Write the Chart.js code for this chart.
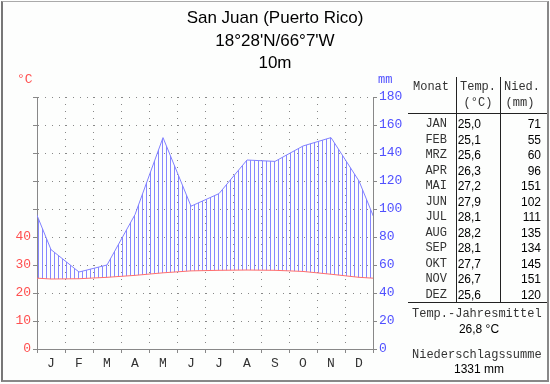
<!DOCTYPE html>
<html><head><meta charset="utf-8">
<script src="https://cdn.jsdelivr.net/npm/chart.js@4"></script>
<style>
html,body{margin:0;padding:0;background:#fdfefd;}
#wrap{position:relative;width:550px;height:384px;overflow:hidden;background:#fdfefd;}
#frame{position:absolute;left:1px;top:1px;width:544px;height:378px;border-top:1px solid #aaa;border-left:2px solid #777;border-right:2px solid #888;border-bottom:2px solid #888;}
canvas{position:absolute;left:0;top:0;}
.t{position:absolute;white-space:pre;line-height:16px;height:16px;}
.title{left:0;width:550px;text-align:center;font-family:"Liberation Sans",Arial,sans-serif;font-size:17px;color:#000;line-height:20px;height:20px;}
.mono{font-family:"Liberation Mono","DejaVu Sans Mono",monospace;font-size:12px;color:#333;}
.ax{font-size:13px;}
.num{font-family:"Liberation Sans",Arial,sans-serif;font-size:12px;color:#000;}
.r{text-align:right;}
.c{text-align:center;}
.hl{position:absolute;height:1px;background:#222;}
.vl{position:absolute;width:1px;background:#222;}
</style></head>
<body><div id="wrap">
<canvas id="c" width="550" height="384"></canvas>
<div id="frame"></div>
<div class="t title" style="top:8px">San Juan (Puerto Rico)</div>
<div class="t title" style="top:31px">18°28'N/66°7'W</div>
<div class="t title" style="top:53px">10m</div>
<div class="t mono ax" style="left:17px;top:72px;color:rgb(255,80,80)">°C</div>
<div class="t mono" style="left:378px;top:72px;color:rgb(80,80,255)">mm</div>
<div id="table"></div>
</div>
<script>
const months = ['J','F','M','A','M','J','J','A','S','O','N','D'];
const monthNames = ['JAN','FEB','MRZ','APR','MAI','JUN','JUL','AUG','SEP','OKT','NOV','DEZ'];
const temperature = [25.0,25.1,25.6,26.3,27.2,27.9,28.1,28.2,28.1,27.7,26.7,25.6];
const precipitation = [71,55,60,96,151,102,111,135,134,145,151,120];
const tempTickLabels = [0,10,20,30,40];
const precipTickLabels = [0,20,40,60,80,100,120,140,160,180];
const annualMeanText = '26,8 °C';
const annualSumText = '1331 mm';

// table (HTML text)
const tbl = document.getElementById('table');
function add(html){ tbl.insertAdjacentHTML('beforeend', html); }
add('<div class="t mono" style="left:413px;top:79px">Monat</div>');
add('<div class="t mono c" style="left:456px;width:44px;top:79px">Temp.</div>');
add('<div class="t mono c" style="left:500px;width:44px;top:79px">Nied.</div>');
add('<div class="t mono c" style="left:456px;width:44px;top:95px">(°C)</div>');
add('<div class="t mono c" style="left:500px;width:40px;top:95px">(mm)</div>');
add('<div class="vl" style="left:456px;top:77px;height:225px"></div>');
add('<div class="vl" style="left:500px;top:77px;height:225px"></div>');
add('<div class="hl" style="left:408px;top:113px;width:139px"></div>');
add('<div class="hl" style="left:408px;top:302px;width:139px"></div>');
monthNames.forEach((m,i)=>{
  const top = 116 + i*15.5;
  add(`<div class="t mono r" style="left:400px;width:47px;top:${top}px">${m}</div>`);
  add(`<div class="t num r" style="left:456px;width:25px;top:${top}px">${temperature[i].toFixed(1).replace('.',',')}</div>`);
  add(`<div class="t num r" style="left:500px;width:41px;top:${top}px">${precipitation[i]}</div>`);
});
add('<div class="t mono" style="left:412px;top:306px">Temp.-Jahresmittel</div>');
add(`<div class="t num c" style="left:410px;width:138px;top:321px">${annualMeanText}</div>`);
add('<div class="t mono" style="left:412px;top:347px">Niederschlagssumme</div>');
add(`<div class="t num c" style="left:410px;width:138px;top:361px">${annualSumText}</div>`);

function wrapSeries(vals){
  const n = vals.length;
  const pts = [{x:-0.5, y:vals[n-1]}];
  vals.forEach((v,i)=>pts.push({x:i+0.5, y:v}));
  pts.push({x:n+0.5, y:vals[0]});
  return pts;
}

// y pixel of a drawn line at pixel x, from the library's own element points
function lineYAt(points, x){
  for (let i = 1; i < points.length; i++) {
    const a = points[i-1], b = points[i];
    if (x >= a.x && x <= b.x) {
      const t = (x - a.x) / (b.x - a.x);
      return a.y + t * (b.y - a.y);
    }
  }
  return null;
}

const hatchPlugin = {
  id:'hatch',
  beforeDatasetsDraw(chart){
    const {ctx, chartArea:a} = chart;
    const tPts = chart.getDatasetMeta(0).data;
    const pPts = chart.getDatasetMeta(1).data;
    ctx.save();
    ctx.beginPath(); ctx.rect(a.left, a.top, a.right - a.left, a.bottom - a.top); ctx.clip();
    ctx.fillStyle = 'rgb(135,135,255)';
    for (let x = Math.ceil(a.left) + 1; x < a.right; x += 4) {
      const yt = lineYAt(tPts, x + 0.5), yp = lineYAt(pPts, x + 0.5);
      if (yt == null || yp == null || yp >= yt) continue;
      ctx.fillRect(x, yp, 1, yt - yp);
    }
    ctx.restore();
  }
};

const canvas = document.getElementById('c');
const ctx = canvas.getContext('2d');
const monoFont = {family:"'Liberation Mono','DejaVu Sans Mono',monospace", size:13};
const gridColor = '#888';

new Chart(ctx, {
  type:'line',
  plugins:[hatchPlugin],
  data:{datasets:[
    {label:'Temp', data:wrapSeries(temperature), yAxisID:'yT', borderColor:'rgb(255,110,110)', borderWidth:1, pointRadius:0, tension:0, fill:false, clip:0},
    {label:'Nied', data:wrapSeries(precipitation), yAxisID:'yP', borderColor:'rgb(128,128,255)', borderWidth:1, pointRadius:0, tension:0, clip:0, fill:false}
  ]},
  options:{
    responsive:false, animation:false, devicePixelRatio:1,
    layout:{padding:{left:0,right:140,top:97,bottom:0}},
    plugins:{legend:{display:false}, tooltip:{enabled:false}},
    scales:{
      x:{type:'linear', min:0, max:12,
         afterBuildTicks:s=>{ s.ticks = months.map((m,i)=>({value:i+0.5})); },
         afterFit:s=>{ s.height = 35; },
         ticks:{callback:(v,i)=>months[i], color:'#333', font:monoFont, padding:3, maxRotation:0, autoSkip:false},
         grid:{offset:true, color:gridColor, tickColor:gridColor, tickLength:4},
         border:{color:gridColor, dash:[1,6]}},
      yT:{position:'left', min:0, max:90,
         afterFit:s=>{ s.width = 37; },
         ticks:{stepSize:10, callback:v=>tempTickLabels.includes(v)?String(v):'', color:'rgb(255,80,80)', font:monoFont, padding:2},
         grid:{color:gridColor, tickColor:gridColor, tickLength:4},
         border:{color:gridColor, dash:[1,6]}},
      yP:{position:'right', min:0, max:180,
         afterFit:s=>{ s.width = 37; },
         ticks:{stepSize:20, callback:v=>precipTickLabels.includes(v)?String(v):'', color:'rgb(80,80,255)', font:monoFont, padding:2},
         grid:{drawOnChartArea:false, color:gridColor, tickColor:gridColor, tickLength:4},
         border:{color:gridColor}}
    }
  }
});
</script>
</body></html>
